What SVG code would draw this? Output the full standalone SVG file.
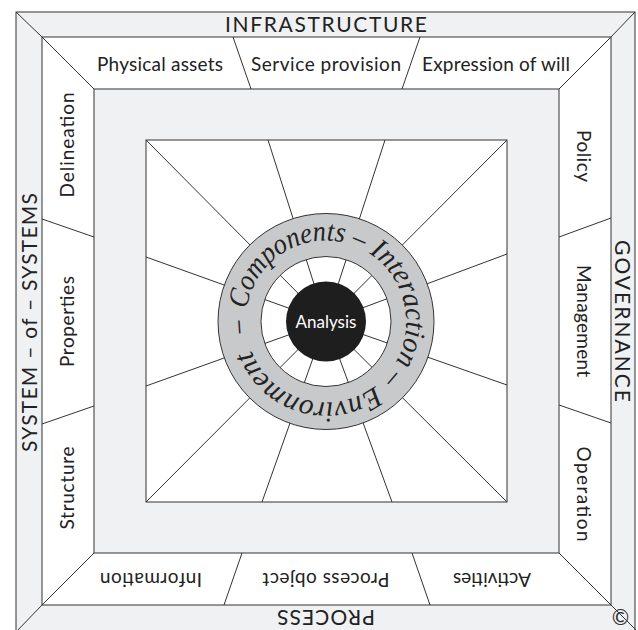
<svg xmlns="http://www.w3.org/2000/svg" width="638" height="630" viewBox="0 0 638 630">
  <style>
    .edge { stroke: #333; stroke-width: 1; fill: none; }
    .band-grey { fill: #f0f1f3; stroke: #333; stroke-width: 1; }
    .band-white { fill: #ffffff; stroke: #333; stroke-width: 1; }
    .outer { font-family: Lato, "Open Sans", "Liberation Sans", sans-serif; font-size: 21px; fill: #222; text-anchor: middle; }
    .label { font-family: Lato, "Open Sans", "Liberation Sans", sans-serif; font-size: 19px; fill: #222; text-anchor: middle; }
    .ring-text { font-family: "Liberation Serif", "DejaVu Serif", serif; font-style: italic; font-size: 29px; fill: #222; }
    .core-text { font-family: Lato, "Open Sans", "Liberation Sans", sans-serif; font-size: 17px; fill: #fff; text-anchor: middle; }
  </style>
  <defs>
    <!-- baseline circle for the ring words, r=80, starting at 170 degrees, clockwise -->
    <path id="ringPath" d="M247.22,335.39 A80,80 0 1,1 404.78,307.61 A80,80 0 1,1 247.22,335.39"/>
  </defs>

  <!-- nested frames -->
  <g id="frames">
    <rect class="band-grey" x="16" y="12" width="619" height="620"/>
    <rect class="band-white" x="42" y="37" width="569" height="568"/>
    <rect class="band-grey" x="94" y="89" width="465" height="464"/>
    <rect class="band-white" x="146" y="140" width="361" height="362"/>
  </g>

  <!-- corner mitres, band dividers and spokes -->
  <g id="connectors" class="edge">
    <line x1="16" y1="12" x2="42" y2="37"/>
    <line x1="42" y1="37" x2="94" y2="89"/>
    <line x1="635" y1="12" x2="611" y2="37"/>
    <line x1="611" y1="37" x2="559" y2="89"/>
    <line x1="16" y1="632" x2="42" y2="605"/>
    <line x1="42" y1="605" x2="94" y2="553"/>
    <line x1="637" y1="631" x2="611" y2="605"/>
    <line x1="611" y1="605" x2="559" y2="553"/>

    <line x1="233" y1="37" x2="251" y2="89"/>
    <line x1="420" y1="37" x2="402" y2="89"/>
    <line x1="42" y1="219" x2="94" y2="237"/>
    <line x1="42" y1="424" x2="94" y2="406"/>
    <line x1="611" y1="218" x2="559" y2="237"/>
    <line x1="611" y1="423" x2="559" y2="405"/>
    <line x1="224" y1="605" x2="242" y2="553"/>
    <line x1="430" y1="605" x2="412" y2="553"/>

    <line x1="146" y1="140" x2="326" y2="321.5"/>
    <line x1="268" y1="140" x2="326" y2="321.5"/>
    <line x1="385" y1="140" x2="326" y2="321.5"/>
    <line x1="507" y1="140" x2="326" y2="321.5"/>
    <line x1="507" y1="254" x2="326" y2="321.5"/>
    <line x1="507" y1="385" x2="326" y2="321.5"/>
    <line x1="507" y1="502" x2="326" y2="321.5"/>
    <line x1="392" y1="502" x2="326" y2="321.5"/>
    <line x1="262" y1="502" x2="326" y2="321.5"/>
    <line x1="146" y1="502" x2="326" y2="321.5"/>
    <line x1="146" y1="386" x2="326" y2="321.5"/>
    <line x1="146" y1="257" x2="326" y2="321.5"/>
  </g>

  <!-- outer headings -->
  <g id="infrastructure"><text class="outer" x="326" y="32" textLength="202">INFRASTRUCTURE</text></g>
  <g id="system-of-systems"><text class="outer" transform="translate(37,322.5) rotate(-90)" textLength="259">SYSTEM – of – SYSTEMS</text></g>
  <g id="governance"><text class="outer" transform="translate(615,321) rotate(90)" textLength="162">GOVERNANCE</text></g>
  <g id="process"><text class="outer" transform="translate(326,610) rotate(180)" textLength="98">PROCESS</text></g>

  <!-- band labels -->
  <g id="physical-assets"><text class="label" x="160" y="71" textLength="126">Physical assets</text></g>
  <g id="service-provision"><text class="label" x="326" y="71" textLength="150">Service provision</text></g>
  <g id="expression-of-will"><text class="label" x="496" y="71" textLength="148">Expression of will</text></g>

  <g id="delineation"><text class="label" transform="translate(74,145) rotate(-90)" textLength="105">Delineation</text></g>
  <g id="properties"><text class="label" transform="translate(74,321.5) rotate(-90)" textLength="91">Properties</text></g>
  <g id="structure"><text class="label" transform="translate(74,488) rotate(-90)" textLength="83">Structure</text></g>

  <g id="policy"><text class="label" transform="translate(577,156) rotate(90)" textLength="52">Policy</text></g>
  <g id="management"><text class="label" transform="translate(577,321) rotate(90)" textLength="112">Management</text></g>
  <g id="operation"><text class="label" transform="translate(577,494) rotate(90)" textLength="95">Operation</text></g>

  <g id="information"><text class="label" transform="translate(151,573) rotate(180)" textLength="102">Information</text></g>
  <g id="process-object"><text class="label" transform="translate(326,573) rotate(180)" textLength="127">Process object</text></g>
  <g id="activities"><text class="label" transform="translate(492,573) rotate(180)" textLength="78">Activities</text></g>

  <!-- central ring with its words set along the baseline circle -->
  <g id="ring">
    <path d="M326,213.5 a108,108 0 1,0 0,216 a108,108 0 1,0 0,-216 Z M326,256.5 a65,65 0 1,0 0,130 a65,65 0 1,0 0,-130 Z" fill="#c8c9cb" fill-rule="evenodd" stroke="#333" stroke-width="1"/>
    <text class="ring-text"><textPath href="#ringPath" startOffset="2.8" textLength="12.6" lengthAdjust="spacingAndGlyphs">–</textPath></text>
    <text class="ring-text"><textPath href="#ringPath" startOffset="26.5" textLength="152" lengthAdjust="spacingAndGlyphs">Components –</textPath></text>
    <text class="ring-text"><textPath href="#ringPath" startOffset="185.7" textLength="145" lengthAdjust="spacingAndGlyphs">Interaction –</textPath></text>
    <text class="ring-text"><textPath href="#ringPath" startOffset="340.6" textLength="149.4" lengthAdjust="spacingAndGlyphs">Environment</textPath></text>
  </g>

  <g id="analysis">
    <circle cx="326" cy="321.5" r="40" fill="#1f1e1e"/>
    <text class="core-text" x="326" y="327.5">Analysis</text>
  </g>

  <g id="mark">
    <text x="620.5" y="625" font-family="Lato, 'Liberation Sans', sans-serif" font-size="21" fill="#333" text-anchor="middle">©</text>
  </g>
</svg>
